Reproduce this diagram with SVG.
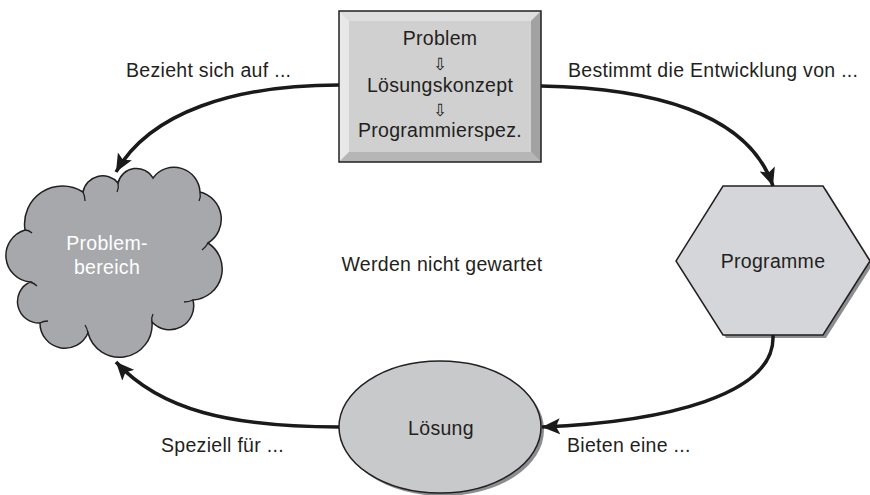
<svg xmlns="http://www.w3.org/2000/svg" width="870" height="495" viewBox="0 0 870 495">
  <style>
    text { font-family: "Liberation Sans", Arial, sans-serif; font-size: 19.5px; letter-spacing: 0.3px; fill: #231f20; }
    .mid { text-anchor: middle; }
    .white { fill: #ffffff; }
    .sym { font-family: "DejaVu Sans", "Noto Sans", sans-serif; font-size: 17px; letter-spacing: 0; fill: #231f20; }
    .edge { fill: none; stroke: #1a1a1a; stroke-width: 3.5; marker-end: url(#arrow); }
    .outline { stroke: #231f20; stroke-width: 1.5; }
  </style>
  <defs>
    <marker id="arrow" markerUnits="userSpaceOnUse" markerWidth="20" markerHeight="18" refX="18" refY="9" orient="auto">
      <path d="M0,1 L18,9 L0,17 L4,9 Z" fill="#1a1a1a"/>
    </marker>
  </defs>

  <rect width="870" height="495" fill="#ffffff"/>

  <!-- bevelled box: process chain -->
  <g id="node-chain">
    <rect x="339" y="11" width="202" height="151" fill="#d0d0d0"/>
    <polygon points="339,11 541,11 531,21 349,21" fill="#dedede"/>
    <polygon points="339,11 349,21 349,152 339,162" fill="#e8e8e8"/>
    <polygon points="541,11 541,162 531,152 531,21" fill="#a2a2a2"/>
    <polygon points="339,162 541,162 531,152 349,152" fill="#b6b6b6"/>
    <rect x="339" y="11" width="202" height="151" fill="none" stroke="#231f20" stroke-width="1.5"/>
    <text class="mid" x="440" y="45">Problem</text>
    <text class="mid sym" x="440" y="70">⇩</text>
    <text class="mid" x="440" y="92">Lösungskonzept</text>
    <text class="mid sym" x="440" y="116">⇩</text>
    <text class="mid" x="440" y="137">Programmierspez.</text>
  </g>

  <!-- cloud: problem domain -->
  <g id="node-problembereich">
    <path class="outline" fill="#a7a8ab" d="M83,192
      A20,20 0 0 1 118,183
      A19,19 0 0 1 153,178
      A26,26 0 0 1 200,192
      A28,28 0 0 1 208,243
      A31,31 0 0 1 193,300
      A24,24 0 0 1 152,322
      A32.6,32.6 0 0 1 88,333
      A25,25 0 0 1 40,323
      A21.5,21.5 0 0 1 30,282
      A26.6,26.6 0 0 1 25,230
      A38,38 0 0 1 83,192 Z"/>
    <g fill="none" stroke="#231f20" stroke-width="1.3">
      <path d="M83,192 q2,4 2,9"/>
      <path d="M118,183 q1,5 -1,9"/>
      <path d="M200,192 q1,5 -1,9"/>
      <path d="M208,243 q-2,4 -6,7"/>
      <path d="M193,300 q-4,2 -9,2"/>
      <path d="M152,322 q-1,-4 1,-8"/>
      <path d="M88,333 q-1,-5 -3,-8"/>
      <path d="M40,323 q3,-2 8,-2"/>
      <path d="M30,282 q4,1 7,4"/>
      <path d="M25,230 q4,0 7,3"/>
    </g>
    <text class="mid white" x="107" y="250">Problem-</text>
    <text class="mid white" x="107" y="274">bereich</text>
  </g>

  <!-- hexagon: programs -->
  <g id="node-programme">
    <polygon points="726,189 826,189 873,264 826,338 726,338 679,264" fill="#8c8d90"/>
    <polygon class="outline" points="723,186 823,186 870,261 823,335 723,335 676,261" fill="#d5d6d9"/>
    <text class="mid" x="773" y="268">Programme</text>
  </g>

  <!-- ellipse: solution -->
  <g id="node-loesung">
    <ellipse cx="443" cy="430" rx="101" ry="66" fill="#8c8d90"/>
    <ellipse class="outline" cx="440" cy="427" rx="101" ry="66" fill="#c8c9cb"/>
    <text class="mid" x="441" y="435">Lösung</text>
  </g>

  <!-- connectors -->
  <g id="connectors">
    <path class="edge" d="M339,85 C235,85 150,112 116,172"/>
    <path class="edge" d="M541,86 C650,88 748,112 773,186"/>
    <path class="edge" d="M773,335 C776,395 665,422 542,427"/>
    <path class="edge" d="M339,427 C230,427 160,410 116,362"/>
  </g>

  <!-- edge labels -->
  <g id="labels">
    <text x="126" y="77">Bezieht sich auf ...</text>
    <text x="568" y="77">Bestimmt die Entwicklung von ...</text>
    <text class="mid" x="442" y="271">Werden nicht gewartet</text>
    <text x="161" y="452">Speziell für ...</text>
    <text x="567" y="452">Bieten eine ...</text>
  </g>
</svg>
